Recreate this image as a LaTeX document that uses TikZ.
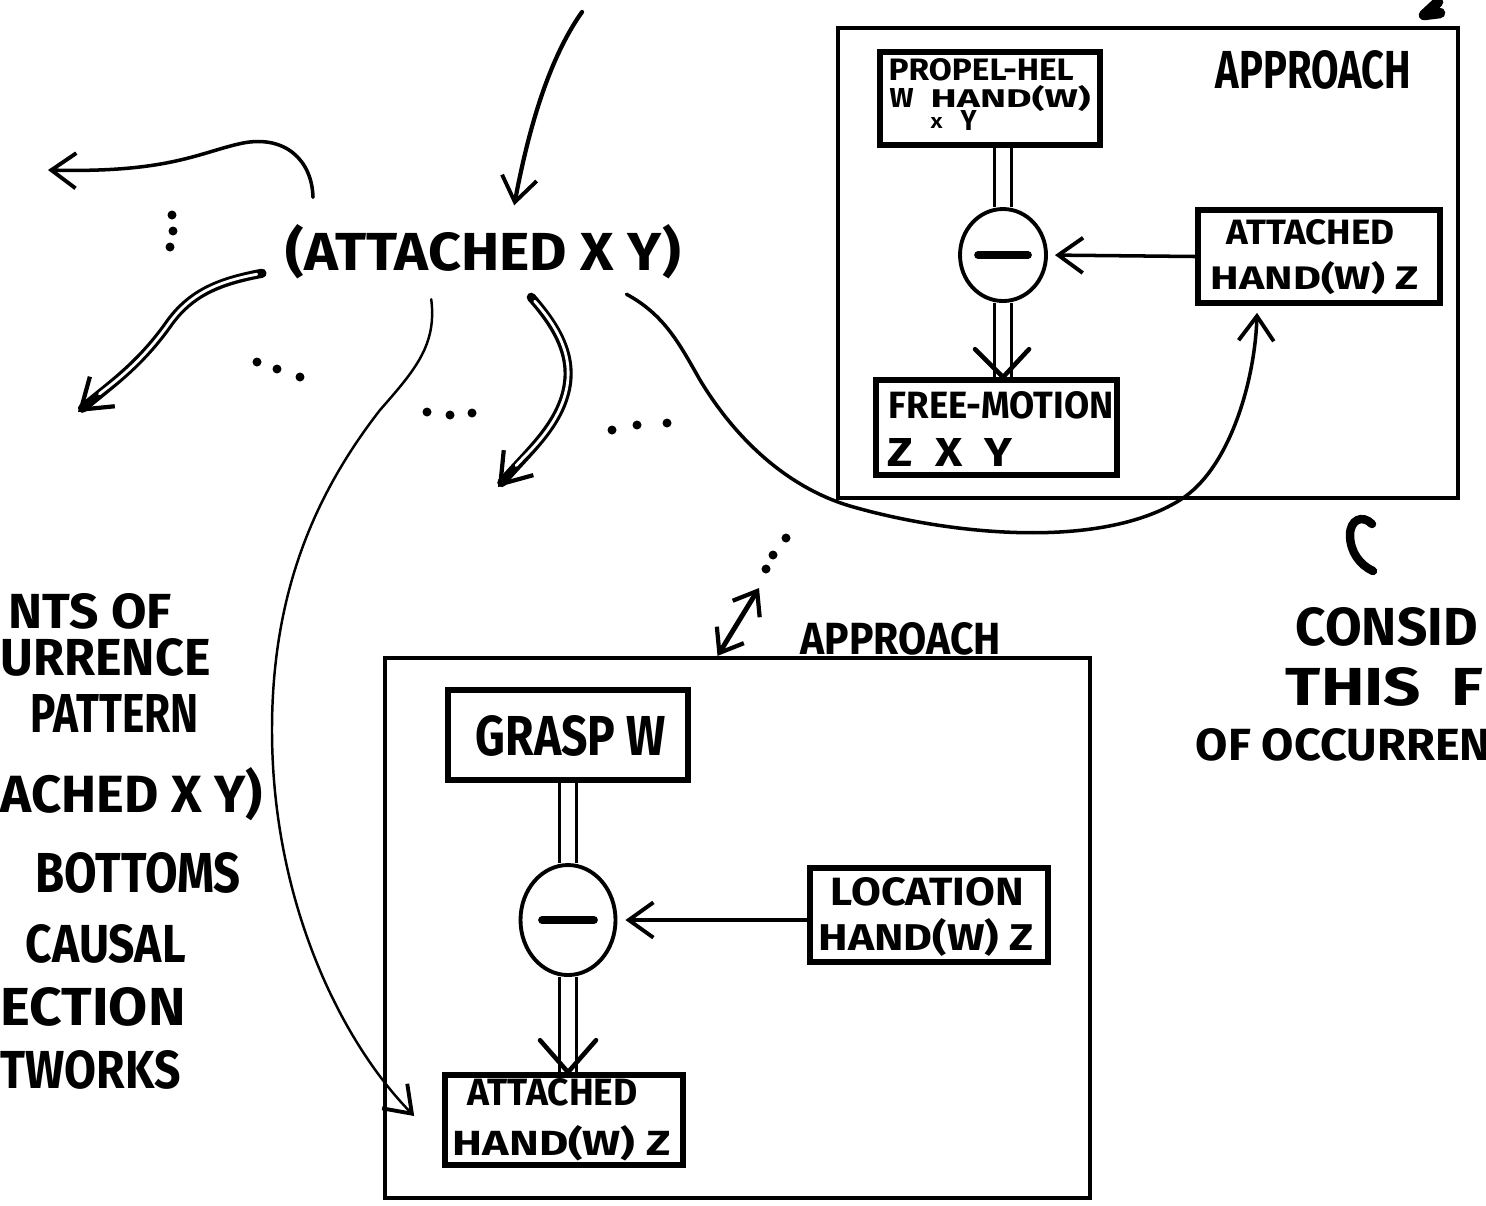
\documentclass[tikz,border=0pt]{standalone}
\usepackage{fontspec}
\usepackage{graphicx}
\usetikzlibrary{arrows.meta,calc,shapes.geometric}
\newfontfamily\hand{Fira Sans}
\newlength\px
\setlength\px{0.01cm}
% text squeezed into a given width and cap height (in px units)
\newcommand\hw[3]{\resizebox{#1\px}{#2\px}{\hand\bfseries #3}}

\begin{document}
\begin{tikzpicture}[x=0.01cm,y=-0.01cm,
  frame/.style={draw,line width=1.2pt,inner sep=0},
  box/.style={draw,line width=1.6pt,inner sep=0},
  oval/.style={ellipse,draw,line width=1.1pt,inner sep=0},
  lbl/.style={inner sep=0,anchor=base west},
  curve/.style={line width=1pt,line cap=round,line join=round},
  thin/.style={line width=0.7pt,line cap=round},
  barb/.style={-{Straight Barb[length=7pt,width=10pt,line width=1.1pt]}},
  barbs/.style={{Straight Barb[length=6pt,width=9pt,line width=1.2pt]}-{Straight Barb[length=6pt,width=9pt,line width=1.2pt]}},
  hollow/.style={line width=2.6pt,line cap=round,
    -{Straight Barb[length=8pt,width=11pt,line width=1.2pt]},
    postaction={draw,white,-,line width=0.8pt,shorten >=8pt,shorten <=1.5pt}},
  shaft/.style={double,line width=1pt,double distance=3.8pt},
  vhead/.style={line width=1.3pt,line cap=round,line join=round},
  minus/.style={line width=2.2pt,line cap=round},
  dot/.style={fill=black}
]
\fill[white] (0,0) rectangle (1486,1205);
\useasboundingbox (0,0) rectangle (1486,1205);

% ---------- central fact ----------
\node[lbl] (attxy) at (285,270) {\hw{395}{46}{(ATTACHED\ X\ Y)}};

% ---------- upper right network ----------
\node[frame,minimum width=620\px,minimum height=470\px] (frameA) at (1148,263) {};
\node[box,minimum width=220\px,minimum height=93\px] (propel) at (990,98.5) {};
\node[lbl] at (888,80) {\hw{185}{22}{PROPEL-HEL}};
\node[lbl] at (889,107) {\hw{24}{19}{W}};
\node[lbl] at (930,107) {\hw{160}{22}{HAND(W)}};
\node[lbl] at (930,128) {\hw{12}{11}{X}};
\node[lbl] at (960,130) {\hw{16}{20}{Y}};
\node[lbl] at (1215,88) {\hw{195}{38}{APPROACH}};

\node[oval,minimum width=86\px,minimum height=92\px] (ovalA) at (1003,255) {};
\draw[minus] ($(ovalA.center)+(-25,0)$) -- ($(ovalA.center)+(25,0)$);

\node[box,minimum width=242\px,minimum height=93\px] (attA) at (1319,256.5) {};
\node[lbl] at (1226,244) {\hw{168}{25}{ATTACHED}};
\node[lbl] at (1210,289) {\hw{208}{28}{HAND(W)\ Z}};

\node[box,minimum width=241\px,minimum height=95\px] (freeM) at (996.5,427.5) {};
\node[lbl] at (888,418) {\hw{225}{27}{FREE-MOTION}};
\node[lbl] at (887,466) {\hw{125}{28}{Z\ \ X\ \ Y}};

\draw[shaft] (ovalA.north |- propel.south) -- (ovalA.north);
\draw[shaft] (ovalA.south) -- (ovalA.south |- freeM.north);
\coordinate (tipF) at (ovalA.south |- freeM.north);
\draw[vhead] ($(tipF)+(-28,-28)$) -- (tipF) -- ($(tipF)+(26,-28)$);
\draw[curve,barb,shorten >=2pt] (attA.west) -- (ovalA.east);

% ---------- lower network ----------
\node[lbl] at (800,654) {\hw{200}{32}{APPROACH}};
\node[frame,minimum width=705\px,minimum height=540\px] (frameB) at (737.5,928) {};
\node[box,minimum width=240\px,minimum height=90\px] (grasp) at (568,735) {};
\node[lbl] at (475,755) {\hw{190}{40}{GRASP\ W}};

\node[oval,minimum width=95\px,minimum height=110\px] (ovalB) at (568,920) {};
\draw[minus] ($(ovalB.center)+(-26,0)$) -- ($(ovalB.center)+(26,0)$);

\node[box,minimum width=238\px,minimum height=94\px] (loc) at (929,915) {};
\node[lbl] at (830,905) {\hw{193}{28}{LOCATION}};
\node[lbl] at (818,950) {\hw{215}{32}{HAND(W)\ Z}};

\node[box,minimum width=238\px,minimum height=90\px] (attB) at (564,1120) {};
\node[lbl] at (467,1105) {\hw{170}{27}{ATTACHED}};
\node[lbl] at (452,1155) {\hw{218}{30}{HAND(W)\ Z}};

\draw[shaft] (ovalB.north |- grasp.south) -- (ovalB.north);
\draw[shaft] (ovalB.south) -- (ovalB.south |- attB.north);
\coordinate (tipB) at (ovalB.south |- attB.north);
\draw[vhead] ($(tipB)+(-28,-32)$) -- (tipB) -- ($(tipB)+(28,-32)$);
\draw[curve,barb,shorten >=8\px] (loc.west |- ovalB.east) -- (ovalB.east);

% ---------- connectors around the central fact ----------
\coordinate (srcTop) at (582,12);
\draw[curve,line width=1.2pt,barb] (srcTop) .. controls (555,50) and (532,110) .. ($(attxy.north)+(31,-18)$);

\coordinate (outL1) at (48,170);
\draw[curve,barb] ($(attxy.north west)+(28,-26)$) .. controls (312,160) and (285,135) .. (243,143)
  .. controls (200,152) and (170,173) .. (outL1);

\coordinate (outL2) at (78,412);
\draw[hollow] ($(attxy.west)+(-23,22)$) .. controls (215,282) and (190,295) .. (170,322)
  .. controls (140,365) and (110,385) .. (outL2);

\coordinate (outM) at (498,487);
\draw[hollow] ($(attxy.south)+(48,18)$) .. controls (560,330) and (575,360) .. (565,395)
  .. controls (555,430) and (525,455) .. (outM);

\draw[thin,barb] ($(attxy.south)+(-52,20)$) .. controls (437,345) and (415,370) .. (380,410)
  .. controls (310,500) and (272,600) .. (272,730)
  .. controls (272,900) and (340,1040) .. ($(attB.west)+(-28,-4)$);

\draw[curve,barb] ($(attxy.south east)+(-55,15)$) .. controls (665,315) and (680,345) .. (700,380)
  .. controls (730,430) and (780,485) .. (850,506)
  .. controls (950,535) and (1100,550) .. (1180,500)
  .. controls (1230,469) and (1255,380) .. ($(attA.south)+(-62,7)$);

% ---------- ellipsis dots ----------
\foreach \x/\y in {172/215,173/231,170/247, 257/362,277/369,300/377,
  427/412,450/415,472/413, 612/430,637/425,667/423, 786/538,773/555,766/569}
  \fill[dot] (\x,\y) circle[radius=4.5\px];

\coordinate (dotEnd) at (759,588);
\draw[curve,line width=1.4pt,barbs] (dotEnd) -- ($(frameB.north)+(-20,0)$);

% ---------- marginal strokes ----------
\draw[line width=3pt,line cap=round,line join=round] (1438,2) -- (1424,15) -- (1440,13);
\draw[line width=2.4pt,line cap=round] (1372,524) .. controls (1362,514) and (1350,520) .. (1350,535)
  .. controls (1350,552) and (1360,565) .. (1373,571);

% ---------- side notes ----------
\node[lbl] at (1295,645) {\hw{182}{38}{CONSID}};
\node[lbl] at (1285,705) {\hw{198}{38}{THIS\ \ F}};
\node[lbl] at (1195,760) {\hw{295}{32}{OF\ OCCURREN}};

\node[lbl] at (8,628) {\hw{163}{35}{NTS\ OF}};
\node[lbl] at (0,675) {\hw{210}{37}{URRENCE}};
\node[lbl] at (30,732) {\hw{168}{38}{PATTERN}};
\node[lbl] at (0,812) {\hw{262}{45}{ACHED\ X\ Y)}};
\node[lbl] at (35,892) {\hw{205}{40}{BOTTOMS}};
\node[lbl] at (25,962) {\hw{160}{38}{CAUSAL}};
\node[lbl] at (0,1025) {\hw{185}{38}{ECTION}};
\node[lbl] at (0,1088) {\hw{180}{38}{TWORKS}};
\end{tikzpicture}
\end{document}
